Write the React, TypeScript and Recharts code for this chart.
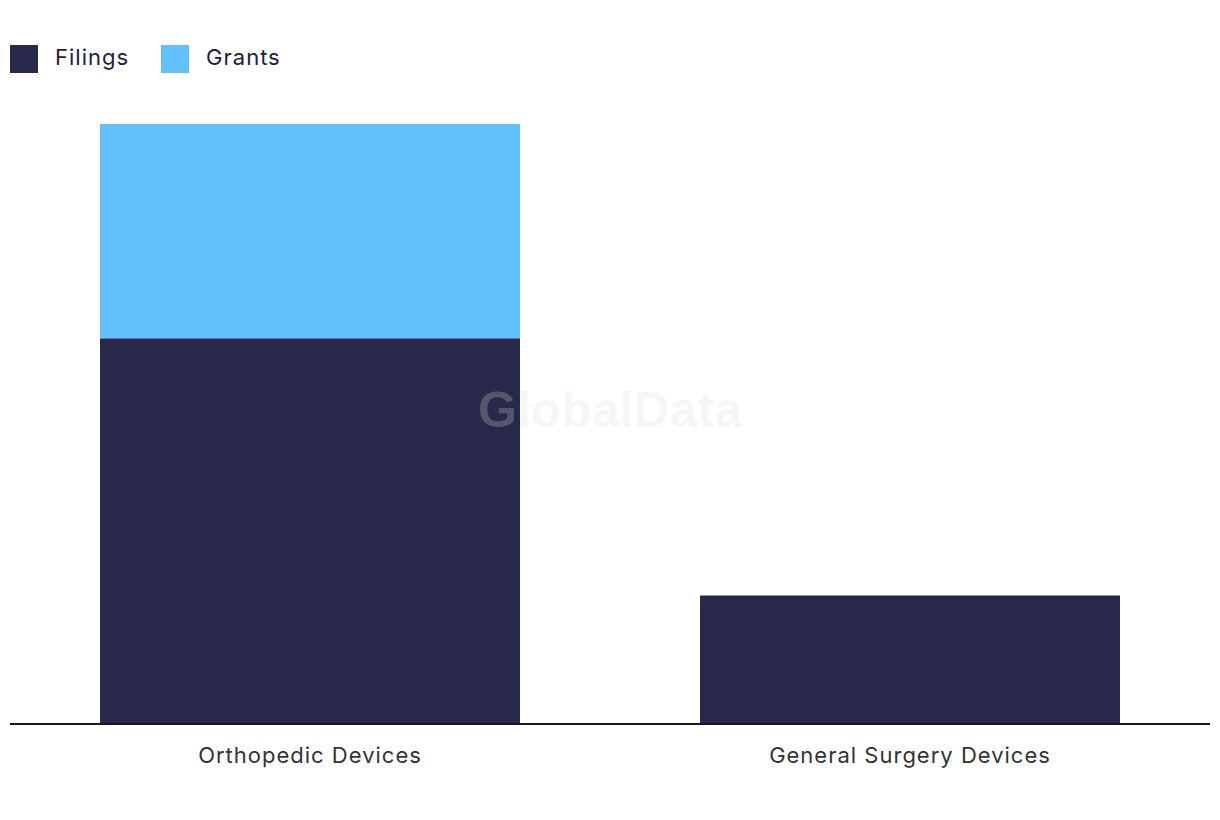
import React from "react";
import { BarChart, Bar, XAxis, YAxis, Legend } from "recharts";

const categories = ["Orthopedic Devices", "General Surgery Devices"];
const filings = [9, 3];
const grants = [5, 0];
const seriesNames = ["Filings", "Grants"];
const seriesColors = ["#28294a", "#62c1f9"];

const data = categories.map((c, i) => ({ name: c, Filings: filings[i], Grants: grants[i] }));

const FONT = "Inter, 'Noto Sans', sans-serif";

const LegendContent = () => (
  <div style={{ display: "flex", alignItems: "center", fontFamily: FONT, fontSize: 22, letterSpacing: 1, color: "#1f2040", height: 34 }}>
    {seriesNames.map((n, i) => (
      <div key={n} style={{ display: "flex", alignItems: "center", marginRight: 32 }}>
        <div style={{ width: 28, height: 28, background: seriesColors[i], marginRight: 17 }} />
        <span style={{ position: "relative", top: -2 }}>{n}</span>
      </div>
    ))}
  </div>
);

export default function App() {
  return (
    <div style={{ position: "absolute", left: 0, top: 0, width: 1220, height: 820, background: "#fff" }}>
      <BarChart width={1220} height={820} data={data} margin={{ top: 90, right: 10, bottom: 36, left: 10 }} barCategoryGap="15%">
        <Legend verticalAlign="top" align="left" content={<LegendContent />} wrapperStyle={{ position: "absolute", top: 42, left: 10 }} />
        <YAxis hide domain={[0, 14]} />
        <XAxis dataKey="name" height={60} axisLine={{ stroke: "#161629", strokeWidth: 2 }} tickLine={false} tickSize={0} tickMargin={23}
          tick={{ fill: "#333", fontSize: 22, fontFamily: FONT, letterSpacing: 1 }} />
        <Bar dataKey="Filings" stackId="a" fill={seriesColors[0]} isAnimationActive={false} />
        <Bar dataKey="Grants" stackId="a" fill={seriesColors[1]} isAnimationActive={false} />
      </BarChart>
      <svg width={1220} height={820} style={{ position: "absolute", left: 0, top: 0, pointerEvents: "none" }}>
        <text x={610} y={410} textAnchor="middle" dominantBaseline="central" fontFamily="'Liberation Sans', Arial, sans-serif" fontWeight="bold" fontSize={50} fill="#dddddd" fillOpacity={0.25}>GlobalData</text>
      </svg>
    </div>
  );
}
